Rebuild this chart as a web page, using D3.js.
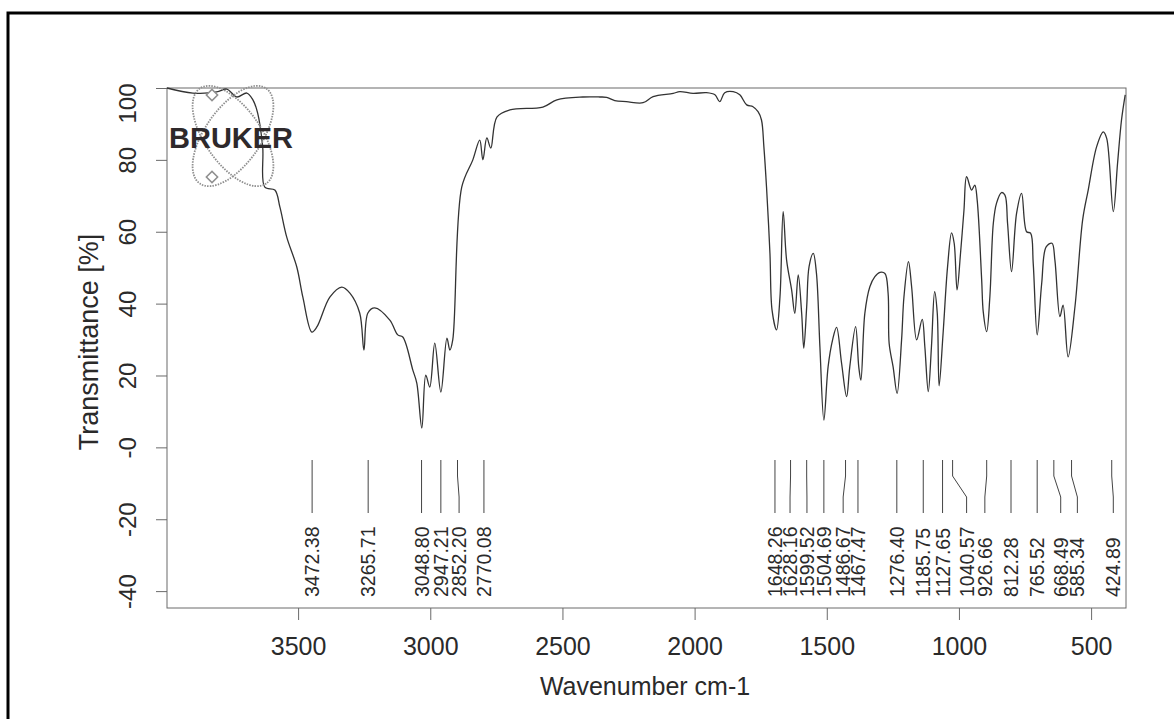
<!DOCTYPE html>
<html>
<head>
<meta charset="utf-8">
<script src="https://cdn.jsdelivr.net/npm/d3@7"></script>
<style>
  body { margin: 0; background: #fff; }
  svg { display: block; font-family: "Liberation Sans", Arial, sans-serif; }
</style>
</head>
<body>
<div id="chart"></div>
<script>
// spectrum (cm-1, %T)
const wavenumber = [3996, 3898, 3808, 3770, 3732, 3694, 3671, 3653, 3634, 3626,
    3588, 3569, 3543, 3505, 3482, 3448, 3429, 3380, 3335, 3304,
    3267, 3251, 3236, 3210, 3153, 3123, 3104, 3066, 3051, 3032,
    3017, 3002, 2983, 2960, 2937, 2926, 2915, 2881, 2839, 2813,
    2801, 2786, 2771, 2748, 2699, 2574, 2521, 2423, 2359, 2333,
    2302, 2258, 2195, 2157, 2081, 2056, 2006, 1955, 1923, 1905,
    1886, 1854, 1829, 1803, 1779, 1760, 1747, 1738, 1728, 1715,
    1707, 1690, 1677, 1665, 1652, 1633, 1621, 1608, 1595, 1587,
    1576, 1567, 1551, 1539, 1526, 1511, 1495, 1478, 1463, 1444,
    1425, 1413, 1391, 1379, 1371, 1356, 1337, 1318, 1299, 1280,
    1268, 1264, 1249, 1234, 1217, 1208, 1191, 1179, 1160, 1139,
    1129, 1116, 1104, 1092, 1082, 1075, 1060, 1043, 1028, 1018,
    1007, 994, 981, 971, 952, 940, 931, 914, 908, 895,
    883, 870, 858, 839, 826, 816, 801, 782, 763, 744,
    729, 719, 704, 687, 670, 648, 637, 618, 606, 587,
    561, 532, 511, 479, 454, 441, 416, 400, 385, 371];

const transmittance = [100, 98.6, 98.9, 99.7, 97.5, 98.6, 96.7, 93.0, 83.6, 72.4,
    71.6, 66.9, 58.5, 50.2, 41.8, 32.1, 33.5, 41.8, 44.6, 42.9,
    37.4, 27.1, 37.4, 38.8, 35.4, 31.3, 30.7, 21.5, 17.9, 5.4,
    20.1, 16.8, 29.0, 15.4, 30.4, 27.1, 29.9, 72.4, 80.0, 85.5,
    80.0, 86.1, 83.3, 91.9, 93.9, 94.7, 96.7, 97.5, 97.5, 97.4,
    96.5, 96.2, 95.9, 97.6, 98.5, 99.0, 98.5, 98.7, 98.1, 96.2,
    98.7, 99.0, 98.1, 95.3, 94.8, 93.4, 91.1, 83.7, 72.5, 54.0,
    38.2, 32.7, 41.9, 65.6, 52.1, 43.8, 37.3, 48.0, 37.3, 27.6,
    39.1, 50.3, 54.0, 48.4, 28.0, 7.6, 22.4, 29.9, 33.4, 23.4,
    14.1, 22.4, 33.6, 22.4, 18.7, 37.3, 44.7, 47.5, 48.7, 48.4,
    42.9, 28.9, 22.4, 15.0, 29.9, 41.9, 51.7, 44.7, 29.9, 35.6,
    28.0, 15.5, 28.0, 43.3, 37.3, 17.1, 31.7, 50.3, 59.7, 56.8,
    43.8, 54.0, 66.0, 75.3, 71.6, 73.0, 68.8, 46.6, 37.7, 32.2,
    41.9, 62.3, 67.9, 70.9, 70.2, 62.3, 48.9, 65.1, 70.7, 60.0,
    59.6, 51.2, 31.3, 45.6, 55.8, 56.8, 52.1, 36.4, 39.6, 25.2,
    39.2, 63.3, 71.6, 83.7, 87.8, 86.0, 65.6, 79.0, 91.1, 98.1];

// peak picks: printed label, where its line starts, where its label sits
const peakLabels = ["3472.38", "3265.71", "3048.80", "2947.21", "2852.20", "2770.08",
    "1648.26", "1628.16", "1599.52", "1504.69", "1486.67", "1467.47",
    "1276.40", "1185.75", "1127.65", "1040.57", "926.66", "812.28",
    "765.52", "668.49", "585.34", "424.89"];
const peakPos = [3447, 3235, 3033, 2960, 2897, 2797,
    1696, 1637, 1576, 1511, 1429, 1382,
    1235, 1135, 1062, 1024, 895, 803,
    704, 641, 574, 422];
const peakLabelPos = [3447, 3235, 3033, 2960, 2891, 2797,
    1696, 1639, 1575, 1511, 1438, 1382,
    1235, 1135, 1062, 971, 902, 803,
    704, 615, 552, 416];

const xTicks = [3500, 3000, 2500, 2000, 1500, 1000, 500];
const yTicks = [100, 80, 60, 40, 20, 0, -20, -40];

function initSpectrum() {
    const W = 1174, H = 719;
    const margin = { top: 88, right: 48, bottom: 111, left: 167 },
        width = W - margin.left - margin.right,
        height = H - margin.top - margin.bottom;

    const root = d3.select("#chart")
        .append("svg")
        .attr("width", W)
        .attr("height", H);

    root.append("rect")
        .attr("width", W).attr("height", H)
        .attr("fill", "#fff");

    // page border of the printout
    root.append("rect")
        .attr("x", 8).attr("y", 13)
        .attr("width", 1300).attr("height", 900)
        .attr("fill", "none")
        .attr("stroke", "#000")
        .attr("stroke-width", 3);

    const svg = root.append("g")
        .attr("transform", "translate(" + margin.left + "," + margin.top + ")");

    const x = d3.scaleLinear().domain([3996, 368]).range([0, width]);
    const y = d3.scaleLinear().domain([-44.7, 100]).range([height, 0]);

    // frame
    svg.append("rect")
        .attr("width", width).attr("height", height)
        .attr("fill", "none")
        .attr("stroke", "#6a6a6a")
        .attr("stroke-width", 1);

    // y axis, labels turned on their side like the OPUS print
    const yAxis = svg.append("g")
        .call(d3.axisLeft(y).tickValues(yTicks).tickSize(11)
            .tickFormat(d => d === 0 ? "-0" : d));
    yAxis.select(".domain").remove();
    yAxis.selectAll("line").attr("stroke", "#6a6a6a");
    yAxis.selectAll("text")
        .attr("x", d => d === 100 ? -15 : 0)
        .attr("y", -31).attr("dy", null)
        .attr("transform", "rotate(-90)")
        .attr("text-anchor", "middle")
        .attr("fill", "#2a2a2a")
        .style("font-size", "24px");
    yAxis.attr("font-family", null);

    const xAxis = svg.append("g")
        .attr("transform", "translate(0," + height + ")")
        .call(d3.axisBottom(x).tickValues(xTicks).tickSize(12)
            .tickFormat(d3.format("d")));
    xAxis.select(".domain").remove();
    xAxis.selectAll("line").attr("stroke", "#6a6a6a");
    xAxis.selectAll("text")
        .attr("y", 47).attr("dy", null)
        .attr("fill", "#2a2a2a")
        .style("font-size", "25px");
    xAxis.attr("font-family", null);

    // spectrum
    const pts = wavenumber.map((w, i) => [w, transmittance[i]]);
    const line = d3.line()
        .x(d => x(d[0]))
        .y(d => y(d[1]))
        .curve(d3.curveCatmullRom.alpha(0.5));

    svg.append("path")
        .datum(pts)
        .attr("fill", "none")
        .attr("stroke", "#333")
        .attr("stroke-width", 1.3)
        .attr("d", line);

    // peak pick lines and labels
    const lineTop = 372, kinkA = 388, kinkB = 409, lineBot = 425, labelBase = 509;
    peakLabels.forEach((lab, i) => {
        const x0 = x(peakPos[i]), x1 = x(peakLabelPos[i]);
        svg.append("path")
            .attr("d", d3.line()([[x0, lineTop], [x0, kinkA], [x1, kinkB], [x1, lineBot]]))
            .attr("fill", "none")
            .attr("stroke", "#444")
            .attr("stroke-width", 1);
        svg.append("text")
            .attr("transform", "translate(" + (x1 + 7) + "," + labelBase + ") rotate(-90)")
            .attr("text-anchor", "start")
            .attr("fill", "#2a2a2a")
            .style("font-size", "19.5px")
            .text(lab);
    });

    // axis titles
    root.append("text")
        .attr("x", 645).attr("y", 695)
        .attr("text-anchor", "middle")
        .attr("fill", "#2a2a2a")
        .style("font-size", "25px")
        .text("Wavenumber cm-1");

    root.append("text")
        .attr("transform", "translate(98,342) rotate(-90)")
        .attr("text-anchor", "middle")
        .attr("fill", "#2a2a2a")
        .style("font-size", "27px")
        .text("Transmittance [%]");

    // BRUKER logo
    const logo = root.append("g").attr("transform", "translate(233,136)");
    [-55, 55].forEach(a => {
        logo.append("ellipse")
            .attr("rx", 58).attr("ry", 28)
            .attr("transform", "rotate(" + a + ")")
            .attr("fill", "none")
            .attr("stroke", "#8f8f8f")
            .attr("stroke-width", 1.8)
            .attr("stroke-dasharray", "1.5,1.2");
    });
    [[-21, -41], [-21, 41]].forEach(p => {
        logo.append("rect")
            .attr("x", p[0] - 4).attr("y", p[1] - 4)
            .attr("width", 8).attr("height", 8)
            .attr("transform", "rotate(45," + p[0] + "," + p[1] + ")")
            .attr("fill", "#fff")
            .attr("stroke", "#8f8f8f")
            .attr("stroke-width", 1.5);
    });
    root.append("text")
        .attr("x", 169).attr("y", 147.5)
        .attr("fill", "#2e292b")
        .style("font-size", "29px")
        .style("font-weight", "bold")
        .text("BRUKER");
}

window.onload = initSpectrum;
</script>
</body>
</html>
